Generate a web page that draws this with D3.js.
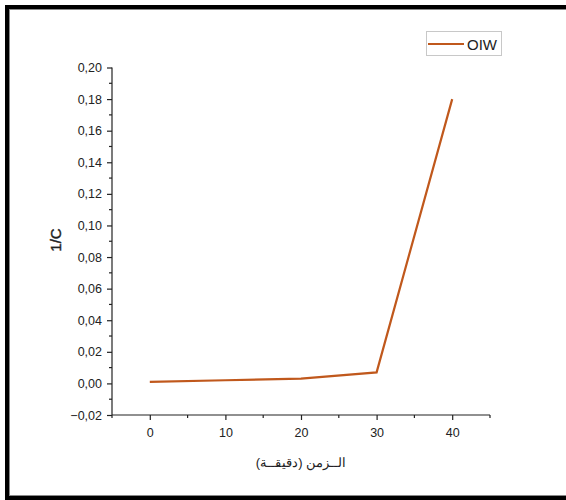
<!DOCTYPE html>
<html>
<head>
<meta charset="utf-8">
<script src="https://cdn.jsdelivr.net/npm/d3@7"></script>
<style>
  html, body { margin: 0; padding: 0; background: #fff; }
  svg { display: block; }
  text { font-family: "Liberation Sans", Arial, sans-serif; fill: #222; }
</style>
</head>
<body>
<svg id="chart" width="566" height="500"></svg>
<script>
// Time (minutes) and the reciprocal concentration 1/C for the OIW series
const timeMin = [0, 10, 20, 30, 40];
const invConc = [0.001, 0.002, 0.003, 0.007, 0.18];
const seriesName = "OIW";
const xTicks = [0, 10, 20, 30, 40];
const yTicks = [-0.02, 0, 0.02, 0.04, 0.06, 0.08, 0.10, 0.12, 0.14, 0.16, 0.18, 0.20];
const xLabel = "الــزمن (دقيقــة)";
const yLabel = "1/C";

const svg = d3.select("#chart");

// Double frame around the figure
svg.append("rect").attr("x", 7).attr("y", 7).attr("width", 580).attr("height", 491)
  .attr("fill", "none").attr("stroke", "#000").attr("stroke-width", 4);
svg.append("rect").attr("x", 9.5).attr("y", 9.5).attr("width", 580).attr("height", 486)
  .attr("fill", "none").attr("stroke", "#888").attr("stroke-width", 1);

const x = d3.scaleLinear().domain([-5, 45]).range([112, 490]);
const y = d3.scaleLinear().domain([-0.02, 0.20]).range([415, 67.5]);

const fmt = v => {
  const s = Math.abs(v).toFixed(2).replace(".", ",");
  return v < -1e-9 ? "\u2212" + s : s;
};

// Minor ticks between labelled ones
const xMinor = d3.range(-5, 46, 5).filter(v => v % 10 !== 0);
const yMinor = d3.range(-0.01, 0.20, 0.02);

const xAxis = svg.append("g").attr("transform", "translate(0,415)")
  .call(d3.axisBottom(x).tickValues(xTicks).tickFormat(d3.format("d")).tickSize(5).tickPadding(8));
const yAxis = svg.append("g").attr("transform", "translate(112,0)")
  .call(d3.axisLeft(y).tickValues(yTicks).tickFormat(fmt).tickSize(5).tickPadding(5));

[xAxis, yAxis].forEach(g => {
  g.select(".domain").attr("stroke", "#222").attr("stroke-width", 1.2);
  g.selectAll(".tick line").attr("stroke", "#222").attr("stroke-width", 1.2);
  g.selectAll(".tick text").style("font-size", "12.5px").attr("fill", "#2a2a2a")
    .style("font-family", "'Liberation Sans', Arial, sans-serif");
});
xAxis.select(".domain").attr("d", "M112,0H490");
yAxis.select(".domain").attr("d", "M0,415V67.5");

xAxis.selectAll(".minor").data(xMinor).enter().append("line")
  .attr("x1", d => x(d)).attr("x2", d => x(d)).attr("y1", 0).attr("y2", 3)
  .attr("stroke", "#222").attr("stroke-width", 1.2);
yAxis.selectAll(".minor").data(yMinor).enter().append("line")
  .attr("y1", d => y(d)).attr("y2", d => y(d)).attr("x1", 0).attr("x2", -3)
  .attr("stroke", "#222").attr("stroke-width", 1.2);

// Axis titles
svg.append("text").attr("x", 301).attr("y", 467).attr("text-anchor", "middle")
  .style("font-size", "13px").attr("direction", "rtl").text(xLabel);
svg.append("text").attr("transform", "translate(61,240) rotate(-90)")
  .attr("text-anchor", "middle").style("font-size", "15px")
  .attr("stroke", "#222").attr("stroke-width", 0.4).text(yLabel);

// Data line
const pts = timeMin.map((t, i) => [t, invConc[i]]);
svg.append("path").datum(pts)
  .attr("d", d3.line().x(d => x(d[0])).y(d => y(d[1])))
  .attr("fill", "none").attr("stroke", "#c0581c").attr("stroke-width", 2.2)
  .attr("stroke-linejoin", "miter");

// Legend
const leg = svg.append("g");
leg.append("rect").attr("x", 426.5).attr("y", 31.5).attr("width", 75).attr("height", 24)
  .attr("fill", "#fff").attr("stroke", "#c8c8c8").attr("stroke-width", 1);
leg.append("line").attr("x1", 428).attr("x2", 464).attr("y1", 44).attr("y2", 44)
  .attr("stroke", "#c0581c").attr("stroke-width", 2.2);
leg.append("text").attr("x", 467).attr("y", 49.5).style("font-size", "15px").text(seriesName);
</script>
</body>
</html>
